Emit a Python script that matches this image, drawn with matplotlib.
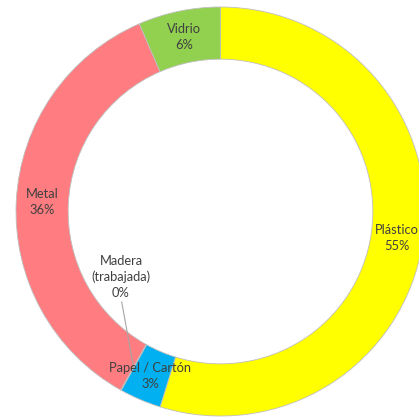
import matplotlib
matplotlib.use("Agg")
import matplotlib.pyplot as plt
import numpy as np

categories = ["Plástico", "Papel / Cartón", "Madera\n(trabajada)", "Metal", "Vidrio"]
values = [54.8, 3.3, 0.05, 35.4, 6.5]
pct_labels = ["55%", "3%", "0%", "36%", "6%"]
colors = ["#FFFF00", "#00B0F0", "#C55A11", "#FF7C80", "#92D050"]

W, H = 419, 418
fig = plt.figure(figsize=(W / 100, H / 100), dpi=100)
ax = fig.add_axes([0, 0, 1, 1])

R_PX = 204.5
CX, CY = 220.5, 211.5
width = 0.255

wedges, _ = ax.pie(values, colors=colors, startangle=90, counterclock=False,
                   radius=1.0,
                   wedgeprops=dict(width=width, edgecolor="#BFBFBF", linewidth=0.6))

ax.set_aspect("auto")
ax.set_xlim(-CX / R_PX, (W - CX) / R_PX)
ax.set_ylim(-(H - CY) / R_PX, CY / R_PX)
ax.axis("off")

rmid = 1 - width / 2
font = dict(family=["Lato", "DejaVu Sans"], fontsize=9.3, color="#404040",
            ha="center", va="center", linespacing=1.4)

for i, (w, cat, pl) in enumerate(zip(wedges, categories, pct_labels)):
    ang = np.deg2rad((w.theta1 + w.theta2) / 2)
    x, y = rmid * np.cos(ang), rmid * np.sin(ang)
    if cat.startswith("Madera"):
        lx, ly = (121 - CX) / R_PX, (CY - 277) / R_PX
        ax.text(lx, ly, cat + "\n" + pl, **font)
        ax.plot([(121.7 - CX) / R_PX, x], [(CY - 302) / R_PX, y],
                color="#A6A6A6", lw=0.8, zorder=5)
    else:
        ax.text(x, y, cat + "\n" + pl, zorder=6, **font)

fig.savefig("out.png", dpi=100)
